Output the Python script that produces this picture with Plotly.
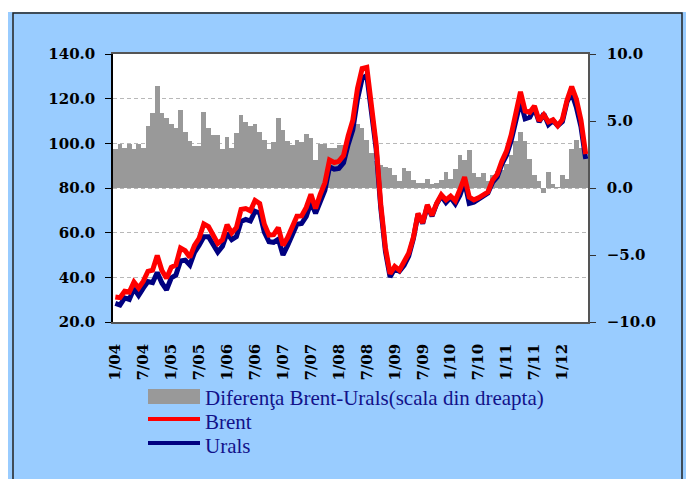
import plotly.graph_objects as go

# Monthly categories 1/04 .. 6/12
months = [f"{m}/{y:02d}" for y in range(4, 13) for m in range(1, 13)][:102]
tick_labels = ["1/04", "7/04", "1/05", "7/05", "1/06", "7/06", "1/07", "7/07", "1/08",
               "7/08", "1/09", "7/09", "1/10", "7/10", "1/11", "7/11", "1/12"]

brent = [31.2, 30.9, 33.8, 33.4, 37.9, 35.2, 38.2, 42.7, 43.2, 49.8, 43.1, 39.6,
         44.5, 45.5, 53.1, 51.9, 49.0, 54.3, 57.5, 63.9, 62.7, 58.5, 55.2, 56.8,
         63.6, 59.9, 62.3, 70.4, 70.8, 69.8, 74.4, 73.0, 63.8, 58.9, 59.1, 62.3,
         54.3, 57.8, 62.1, 67.4, 67.5, 71.3, 77.2, 70.8, 77.1, 82.3, 92.5, 91.4,
         92.0, 94.5, 103.3, 110.4, 124.6, 133.5, 134.0, 114.6, 99.6, 72.7, 53.2, 41.6,
         44.9, 43.2, 46.8, 50.8, 57.9, 68.6, 64.4, 72.5, 67.7, 73.2, 77.0, 74.7,
         76.4, 74.3, 79.3, 84.9, 75.9, 74.7, 75.6, 77.1, 78.2, 83.5, 86.1, 92.0,
         96.5, 103.7, 114.6, 123.1, 114.5, 113.9, 116.7, 110.1, 112.8, 109.6, 110.5, 107.9,
         110.7, 119.3, 125.4, 119.8, 110.3, 95.2]

urals = [28.3, 27.6, 30.8, 30.1, 35.0, 31.9, 35.2, 38.1, 37.6, 42.2, 37.5, 34.4,
         39.7, 41.0, 47.3, 47.7, 45.5, 51.2, 54.4, 58.2, 58.2, 54.6, 51.3, 53.9,
         59.8, 56.9, 58.2, 65.0, 65.9, 65.2, 69.6, 68.8, 60.2, 56.0, 55.7, 57.1,
         50.0, 54.3, 58.9, 63.8, 64.1, 67.3, 73.5, 68.7, 73.8, 79.0, 89.5, 88.4,
         88.8, 91.3, 99.5, 106.1, 119.8, 129.0, 130.4, 112.0, 97.6, 71.0, 51.6, 40.1,
         43.9, 42.7, 45.3, 49.5, 57.3, 68.3, 64.1, 71.9, 67.4, 72.9, 76.4, 73.5,
         75.7, 72.9, 76.8, 82.8, 73.1, 73.6, 74.8, 76.0, 77.7, 82.5, 84.9, 90.7,
         94.7, 101.2, 111.1, 118.9, 111.0, 111.7, 115.7, 109.6, 113.2, 108.4, 110.2, 107.9,
         109.7, 118.6, 122.5, 116.2, 107.3, 93.0]

diff = [2.9, 3.3, 3.0, 3.3, 2.9, 3.3, 3.0, 4.6, 5.6, 7.6, 5.6, 5.2,
        4.8, 4.5, 5.8, 4.2, 3.5, 3.15, 3.1, 5.7, 4.5, 3.95, 3.95, 2.9,
        3.8, 3.0, 4.1, 5.45, 4.95, 4.6, 4.8, 4.2, 3.6, 2.9, 3.4, 5.2,
        4.3, 3.5, 3.2, 3.6, 3.45, 4.0, 3.7, 2.1, 3.3, 3.3, 3.0, 3.0,
        3.2, 3.2, 3.8, 4.3, 4.8, 4.5, 3.6, 2.6, 2.0, 1.7, 1.6, 1.5,
        1.0, 0.5, 1.5, 1.3, 0.6, 0.35, 0.35, 0.65, 0.3, 0.35, 0.6, 1.2,
        0.7, 1.4, 2.5, 2.1, 2.85, 1.1, 0.85, 1.1, 0.5, 1.0, 1.25, 1.35,
        1.8, 2.5, 3.5, 4.2, 3.5, 2.2, 1.0, 0.5, -0.4, 1.2, 0.3, 0.05,
        1.0, 0.7, 2.9, 3.6, 3.0, 2.2]

left_ticks = [20, 40, 60, 80, 100, 120, 140]
right_ticks = [-10, -5, 0, 5, 10]

series_names = ["Diferenţa Brent-Urals(scala din dreapta)", "Brent", "Urals"]
series_colors = ["#999999", "#FF0000", "#000080"]

x_idx = list(range(len(months)))
tick_idx = [months.index(t) for t in tick_labels]

serif = "Liberation Serif"
tickserif = "DejaVu Serif"
fig = go.Figure()

fig.add_trace(go.Bar(
    x=x_idx, y=diff, name=series_names[0],
    marker=dict(color=series_colors[0], line=dict(width=0)),
    yaxis="y",
))
fig.add_trace(go.Scatter(
    x=x_idx, y=urals, name=series_names[2], mode="lines",
    line=dict(color=series_colors[2], width=5), yaxis="y2",
))
fig.add_trace(go.Scatter(
    x=x_idx, y=brent, name=series_names[1], mode="lines",
    line=dict(color=series_colors[1], width=5), yaxis="y2",
))

W, H = 686, 479
L, R, T, B = 113, 588, 54, 322
def px(x):
    return (x - L) / (R - L)
def py(y):
    return (B - y) / (B - T)

tickfont = dict(family=tickserif, size=15, color="black", weight="bold")

shapes = [
    dict(type="rect", xref="paper", yref="paper", layer="below",
         x0=px(8), x1=px(700), y0=py(500), y1=py(12),
         fillcolor="#99CCFF", line=dict(width=0)),
    dict(type="rect", xref="paper", yref="paper", layer="below",
         x0=px(13), x1=px(682), y0=py(490), y1=py(13),
         fillcolor="rgba(0,0,0,0)", line=dict(color="#222222", width=1.5)),
    dict(type="rect", xref="paper", yref="paper", layer="below",
         x0=0, x1=1, y0=0, y1=1,
         fillcolor="white", line=dict(width=0)),
]

# manual legend (symbols + text)
legend_rows = [397, 421, 445]
shapes.append(dict(type="rect", xref="paper", yref="paper",
                   x0=px(148), x1=px(200), y0=py(404), y1=py(389),
                   fillcolor=series_colors[0], line=dict(width=0)))
for name_i, row in ((1, legend_rows[1]), (2, legend_rows[2])):
    shapes.append(dict(type="line", xref="paper", yref="paper",
                       x0=px(148), x1=px(200), y0=py(row - 2), y1=py(row - 2),
                       line=dict(color=series_colors[name_i], width=4)))
annotations = []
for name, row in zip(series_names, legend_rows):
    annotations.append(dict(
        text=name, xref="paper", yref="paper", x=px(203), y=py(row + 1),
        xanchor="left", yanchor="middle", showarrow=False,
        font=dict(family=serif, size=21, color="#12128a"),
    ))

fig.update_layout(
    width=W, height=H,
    margin=dict(l=L, r=W - R, t=T, b=H - B),
    paper_bgcolor="white", plot_bgcolor="white",
    bargap=0,
    showlegend=False,
    xaxis=dict(
        range=[-0.5, len(months) - 0.5],
        tickvals=tick_idx, ticktext=tick_labels, tickangle=-90,
        tickfont=tickfont, showgrid=False, zeroline=False,
        showline=True, linecolor="#555555", linewidth=1.5, mirror=True,
        ticks="", ticklabelstandoff=14,
    ),
    yaxis=dict(
        range=[-10, 10], tickvals=right_ticks, tickformat=".1f",
        side="right", tickfont=tickfont, showgrid=False, zeroline=False,
        showline=True, linecolor="#555555", linewidth=1.5,
        ticks="outside", ticklen=6, tickcolor="#333333", ticklabelstandoff=8,
    ),
    yaxis2=dict(
        range=[20, 140], tickvals=left_ticks, tickformat=".1f",
        side="left", overlaying="y", tickfont=tickfont,
        showgrid=True, gridcolor="#b8b8b8", griddash="4px,3px", gridwidth=1,
        zeroline=False, showline=True, linecolor="black", linewidth=1.5,
        ticks="outside", ticklen=6, tickcolor="black", ticklabelstandoff=7,
    ),
    shapes=shapes,
    annotations=annotations,
)

fig.write_html("out.html", config={"displayModeBar": False},
               post_script="document.body.style.margin='0';")
